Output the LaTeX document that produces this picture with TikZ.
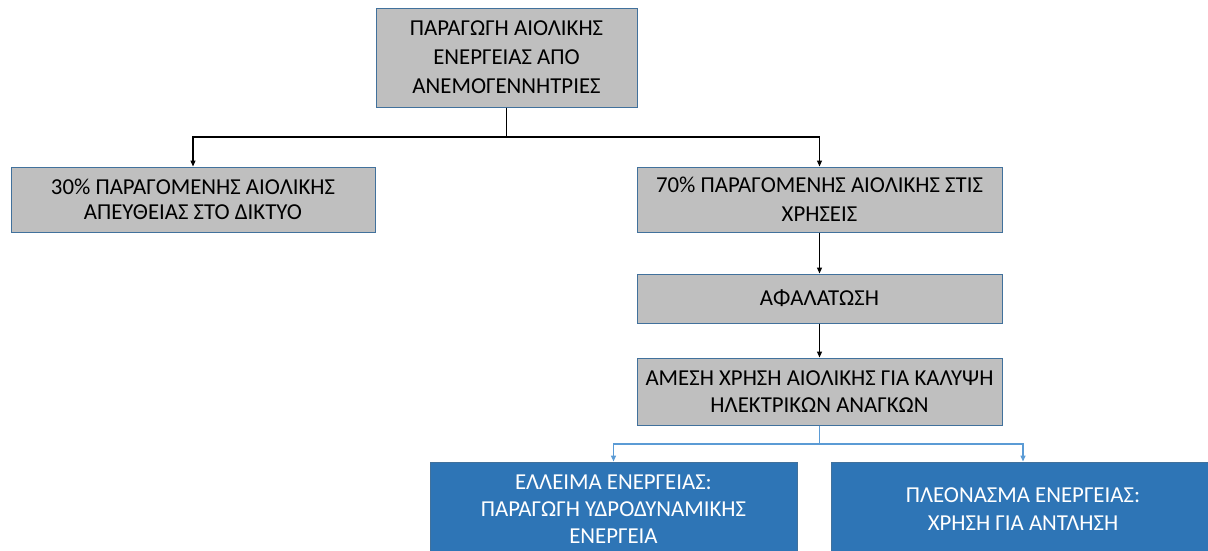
\documentclass[tikz,border=0pt]{standalone}
\usepackage{fontspec}
\setmainfont{Carlito}
\usetikzlibrary{arrows.meta}
\definecolor{grayfill}{HTML}{BFBFBF}
\definecolor{boxedge}{HTML}{41719C}
\definecolor{bluefill}{HTML}{2E75B6}
\definecolor{blueline}{HTML}{5B9BD5}
\tikzset{
  graybox/.style={draw=boxedge, line width=1pt, fill=grayfill, align=center, inner sep=0pt, text=black, font=\fontsize{22.8}{29}\selectfont},
  bluebox/.style={draw=boxedge, line width=1pt, fill=bluefill, align=center, inner sep=0pt, text=white, font=\fontsize{22.8}{27}\selectfont},
  blackconn/.style={draw=black, line width=1.1pt, -{Triangle[length=6pt,width=5pt]}},
  blueconn/.style={draw=blueline, line width=1.4pt, -{Triangle[length=6pt,width=5pt]}},
}
\begin{document}
\begin{tikzpicture}[x=1pt,y=-1pt]
\useasboundingbox (0,0) rectangle (1208,550);
\clip (0,0) rectangle (1208,550);
\node[graybox, minimum width=261pt, minimum height=99pt] (top) at (506.5,57.5)
  {ΠΑΡΑΓΩΓΗ ΑΙΟΛΙΚΗΣ\\ΕΝΕΡΓΕΙΑΣ ΑΠΌ\\ΑΝΕΜΟΓΕΝΝΗΤΡΙΕΣ};
\node[graybox, minimum width=364pt, minimum height=65pt, font=\fontsize{22.8}{25}\selectfont] (left) at (193,199.5)
  {30\% ΠΑΡΑΓΟΜΕΝΗΣ ΑΙΟΛΙΚΗΣ\\ΑΠΕΥΘΕΙΑΣ ΣΤΟ ΔΙΚΤΥΟ};
\node[graybox, minimum width=365pt, minimum height=65pt] (r70) at (819.5,199.5)
  {70\% ΠΑΡΑΓΟΜΕΝΗΣ ΑΙΟΛΙΚΗΣ ΣΤΙΣ\\ΧΡΗΣΕΙΣ};
\node[graybox, minimum width=365pt, minimum height=49pt] (afal) at (819.5,298.5)
  {ΑΦΑΛΑΤΩΣΗ};
\node[graybox, minimum width=365pt, minimum height=67pt, font=\fontsize{22.8}{27}\selectfont] (amesi) at (819.5,391.5)
  {ΑΜΕΣΗ ΧΡΗΣΗ ΑΙΟΛΙΚΗΣ ΓΙΑ ΚΑΛΥΨΗ\\ΗΛΕΚΤΡΙΚΩΝ ΑΝΑΓΚΩΝ};
\node[bluebox, minimum width=367pt, minimum height=94pt] (bl) at (613.5,509)
  {ΕΛΛΕΙΜΑ ΕΝΕΡΓΕΙΑΣ:\\ΠΑΡΑΓΩΓΗ ΥΔΡΟΔΥΝΑΜΙΚΗΣ\\ΕΝΕΡΓΕΙΑ};
\node[bluebox, minimum width=384pt, minimum height=94pt, font=\fontsize{22.8}{28}\selectfont] (br) at (1023,509)
  {ΠΛΕΟΝΑΣΜΑ ΕΝΕΡΓΕΙΑΣ:\\ΧΡΗΣΗ ΓΙΑ ΑΝΤΛΗΣΗ};
\coordinate (j1) at (506.5,137);
\coordinate (j2) at (819.5,444);
\draw[blackconn] (top.south) -- (j1) -| (left.north);
\draw[blackconn] (top.south) -- (j1) -| (r70.north);
\draw[blackconn] (r70.south) -- (afal.north);
\draw[blackconn] (afal.south) -- (amesi.north);
\draw[blueconn] (amesi.south) -- (j2) -| (bl.north);
\draw[blueconn] (amesi.south) -- (j2) -| (br.north);
\end{tikzpicture}
\end{document}
